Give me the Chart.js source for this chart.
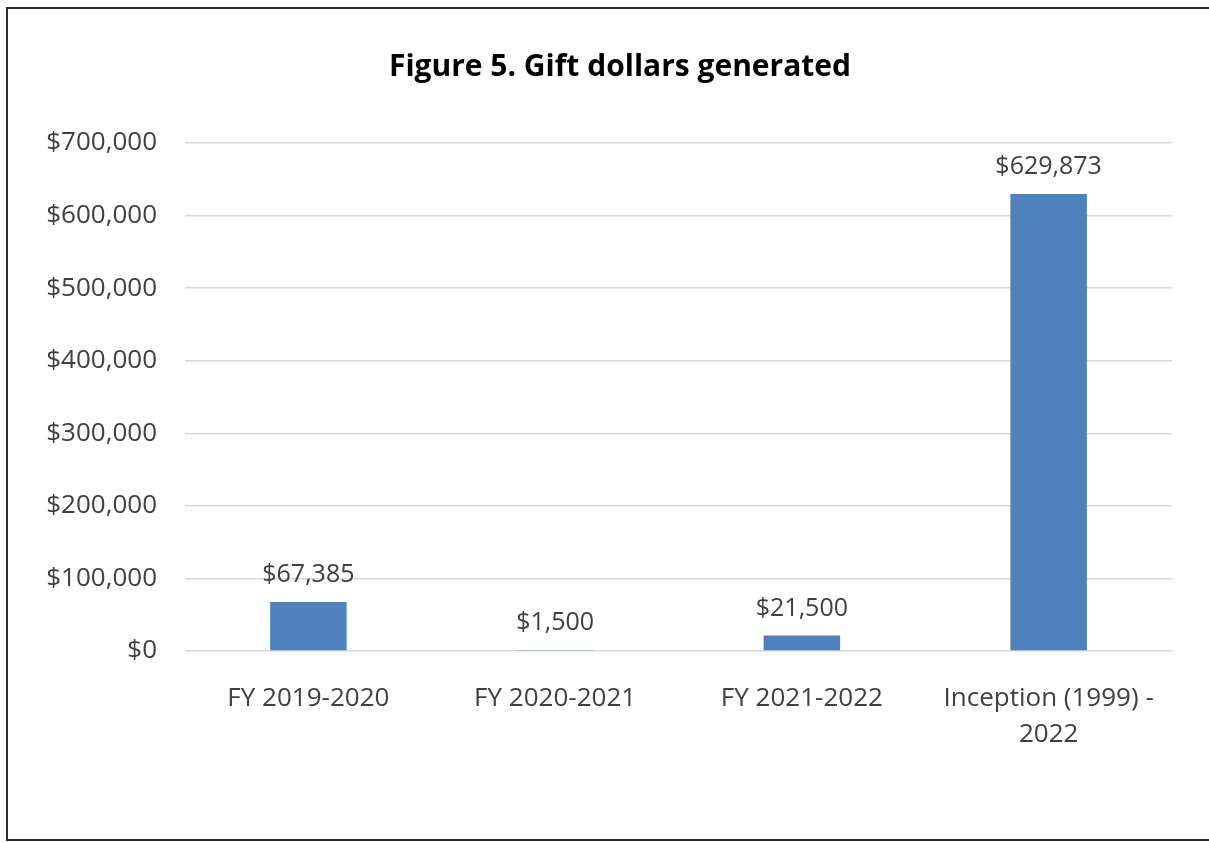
<!DOCTYPE html>
<html>
<head>
<meta charset="utf-8">
<title>Figure 5. Gift dollars generated</title>
<script src="https://cdn.jsdelivr.net/npm/chart.js@4.4.1/dist/chart.umd.min.js"></script>
<style>
    html, body { margin: 0; padding: 0; background: #fff; overflow: hidden; }
    #wrap { position: relative; width: 1209px; height: 842px; overflow: hidden; }
    #wrap canvas { position: absolute; left: 0; top: 0; }
    /* thin frame around the figure (open on the right, where it is cut off) */
    #frame { position: absolute; left: 6px; right: 0; top: 7px; height: 830px; border: 2px solid #2b2b2b; border-right: 0; pointer-events: none; }
</style>
</head>
<body>
<div id="wrap">
    <canvas id="giftChart" width="1209" height="842"></canvas>
    <div id="frame"></div>
</div>
<script>
// Data
const categories = ['FY 2019-2020', 'FY 2020-2021', 'FY 2021-2022', ['Inception (1999) -', '2022']];
const giftDollars = [67385, 1500, 21500, 629873];
const yTickValues = [0, 100000, 200000, 300000, 400000, 500000, 600000, 700000];
const chartTitle = 'Figure 5. Gift dollars generated';

const FONT = "'Open Sans', Lato, sans-serif";
const TEXT_COLOR = '#404040';

// Helper: $12,345
function formatDollars(v) {
    return '$' + v.toLocaleString('en-US');
}

// Title, centred a little right of the canvas middle
const figureTitle = {
    id: 'figureTitle',
    afterDraw(chart) {
        const { ctx } = chart;
        ctx.save();
        ctx.font = `bold 30px ${FONT}`;
        ctx.fillStyle = '#000';
        ctx.textAlign = 'center';
        ctx.textBaseline = 'middle';
        ctx.fillText(chartTitle, 620, 67);
        ctx.restore();
    }
};

// Value labels above each bar
const valueLabels = {
    id: 'valueLabels',
    afterDatasetsDraw(chart) {
        const { ctx } = chart;
        const meta = chart.getDatasetMeta(0);
        ctx.save();
        ctx.font = `25px ${FONT}`;
        ctx.fillStyle = TEXT_COLOR;
        ctx.textAlign = 'center';
        ctx.textBaseline = 'middle';
        meta.data.forEach((bar, i) => {
            ctx.fillText(formatDollars(giftDollars[i]), bar.x, bar.y - 27);
        });
        ctx.restore();
    }
};

new Chart(document.getElementById('giftChart'), {
    type: 'bar',
    data: {
        labels: categories,
        datasets: [{
            data: giftDollars,
            backgroundColor: '#4f81bd',
            categoryPercentage: 1,
            barPercentage: 0.31
        }]
    },
    options: {
        responsive: false,
        animation: false,
        devicePixelRatio: 1,
        layout: { padding: { left: 0, right: 37, top: 143, bottom: 0 } },
        plugins: {
            legend: { display: false },
            tooltip: { enabled: false },
            title: { display: false }
        },
        scales: {
            x: {
                grid: { display: false },
                border: { display: false },
                ticks: {
                    color: TEXT_COLOR,
                    font: { family: FONT, size: 26, lineHeight: 1.4 },
                    padding: 21,
                    maxRotation: 0
                },
                afterFit(scale) { scale.height = 842 - 651; }
            },
            y: {
                min: 0,
                max: 700000,
                afterBuildTicks(scale) {
                    scale.ticks = yTickValues.map(v => ({ value: v }));
                },
                grid: { color: '#d9d9d9', lineWidth: 1.5, drawTicks: false },
                border: { display: false },
                ticks: {
                    color: TEXT_COLOR,
                    font: { family: FONT, size: 26 },
                    padding: 28,
                    callback: (value) => formatDollars(value)
                },
                afterFit(scale) { scale.width = 185; }
            }
        }
    },
    plugins: [valueLabels, figureTitle]
});
</script>
</body>
</html>
